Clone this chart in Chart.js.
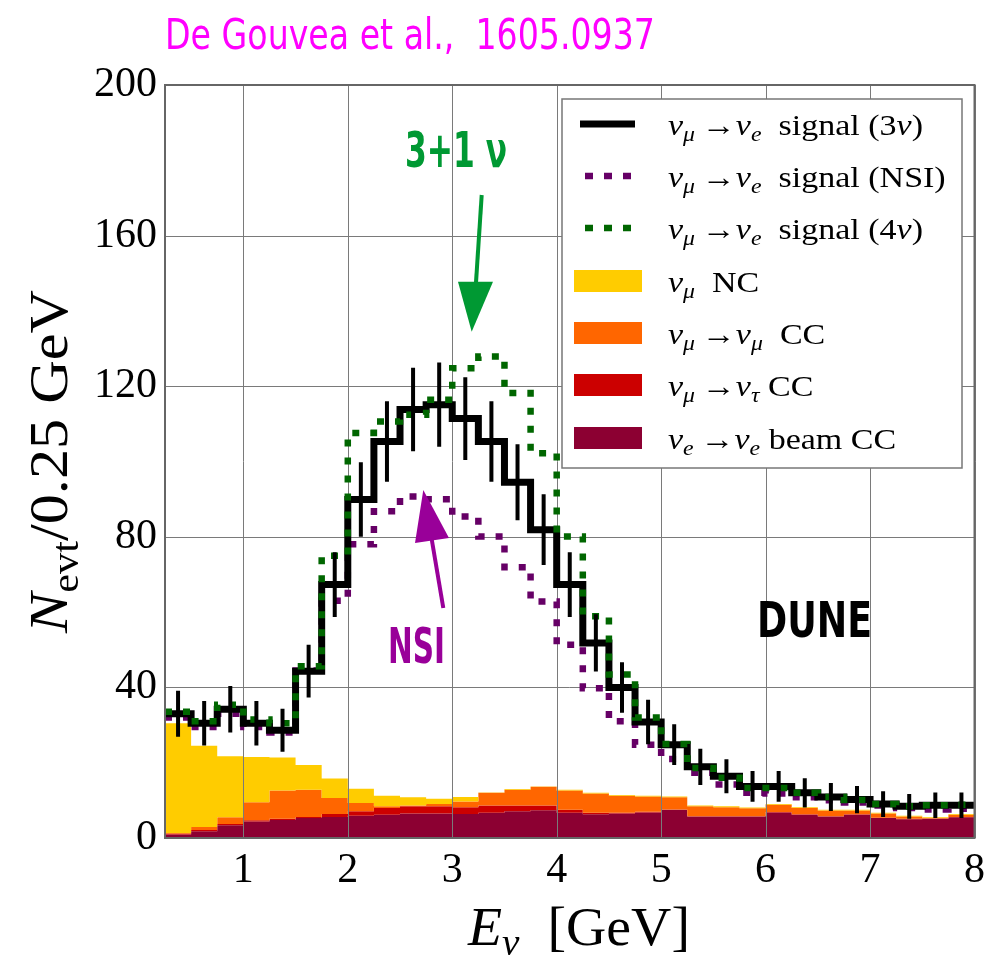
<!DOCTYPE html>
<html>
<head>
<meta charset="utf-8">
<script src="https://cdn.jsdelivr.net/npm/chart.js@4.4.1/dist/chart.umd.min.js"></script>
<style>
html, body { margin: 0; padding: 0; background: #fff; }
</style>
</head>
<body>
<canvas id="chart" width="993" height="959"></canvas>
<script>
// bin edges in GeV (0.25 GeV bins)
const edges = [0.25, 0.5, 0.75, 1.0, 1.25, 1.5, 1.75, 2.0, 2.25, 2.5, 2.75, 3.0, 3.25, 3.5, 3.75, 4.0,
  4.25, 4.5, 4.75, 5.0, 5.25, 5.5, 5.75, 6.0, 6.25, 6.5, 6.75, 7.0, 7.25, 7.5, 7.75, 8.0];

// signal counts per bin
const signal3nu = [33.0, 30.5, 34.2, 30.5, 28.6, 44.3, 67.3, 89.9, 105.3, 113.8, 115.1, 111.4, 105.3, 94.5, 81.9, 67.3,
  51.8, 40.0, 30.8, 24.8, 18.9, 16.4, 13.7, 13.7, 12.0, 10.9, 10.2, 9.0, 8.4, 8.7, 8.7];
const err3nu = [6.1, 5.9, 6.2, 5.9, 5.7, 7.0, 8.6, 9.9, 10.7, 11.1, 11.2, 11.0, 10.7, 10.1, 9.4, 8.6,
  7.6, 6.7, 5.9, 5.4, 4.8, 4.5, 4.1, 4.1, 3.9, 3.7, 3.6, 3.4, 3.3, 3.4, 3.4];
const signalNSI = [32.0, 29.5, 33.0, 29.5, 28.0, 44.5, 63.0, 78.0, 86.8, 90.7, 90.0, 85.4, 80.1, 71.9, 62.8, 51.3,
  39.8, 31.0, 24.8, 21.0, 17.3, 14.2, 12.0, 11.8, 10.8, 10.0, 9.4, 8.6, 8.0, 7.6, 7.8];
const signal4nu = [33.5, 31.0, 35.4, 31.5, 30.5, 45.6, 75.0, 107.6, 110.6, 112.4, 116.4, 124.8, 127.9, 118.2, 102.2, 80.1,
  58.9, 43.4, 32.0, 25.0, 18.6, 16.0, 13.3, 13.3, 12.0, 10.9, 10.1, 9.0, 8.4, 8.7, 8.8];

// backgrounds (stacked, bottom to top)
const beamCC = [0.9, 1.8, 3.4, 4.4, 4.8, 5.3, 5.6, 5.9, 6.2, 6.5, 6.5, 6.4, 6.7, 7.1, 7.4, 6.7,
  6.3, 6.5, 6.8, 7.5, 5.7, 5.7, 5.7, 6.8, 6.2, 5.7, 6.2, 5.3, 5.0, 5.1, 5.5];
const nutauCC = [0.2, 0.3, 0.3, 0.3, 0.3, 0.3, 0.8, 1.2, 1.8, 1.9, 1.9, 1.8, 1.9, 1.5, 1.2, 0.8,
  0.4, 0.2, 0.2, 0.1, 0.1, 0.1, 0.1, 0.1, 0.1, 0.1, 0.1, 0.1, 0.1, 0.1, 0.1];
const numuCC = [0.2, 0.8, 1.8, 4.8, 7.5, 7.2, 4.2, 2.2, 0.4, 0.2, 0.6, 1.5, 3.4, 4.2, 5.0, 5.1,
  5.1, 4.5, 4.0, 3.2, 2.6, 2.4, 2.1, 1.9, 1.7, 1.5, 1.0, 1.1, 0.6, 0.1, 0.6];
const numuNC = [29.2, 21.6, 16.2, 12.0, 8.8, 6.6, 5.2, 3.8, 2.8, 2.2, 1.4, 1.2, 0.1, 0.2, 0.1, 0.2,
  0.2, 0.2, 0.2, 0.2, 0.2, 0.2, 0.2, 0.2, 0.2, 0.2, 0.2, 0.2, 0.2, 0.2, 0.2];

const xTicks = [1, 2, 3, 4, 5, 6, 7, 8];
const yTicks = [0, 40, 80, 120, 160, 200];

const SERIF = '"Liberation Serif", "DejaVu Serif", serif';
const COND = '"Liberation Sans Narrow", "DejaVu Sans Condensed", "Liberation Sans", sans-serif';

// histogram points: value held from left edge to next edge
function steps(vals) {
  const pts = vals.map((v, i) => ({ x: edges[i], y: v }));
  pts.push({ x: edges[edges.length - 1], y: vals[vals.length - 1] });
  return pts;
}
const cumBeam = beamCC.slice();
const cumTau = cumBeam.map((v, i) => v + nutauCC[i]);
const cumNumu = cumTau.map((v, i) => v + numuCC[i]);
const cumNC = cumNumu.map((v, i) => v + numuNC[i]);

const errPts = [];
signal3nu.forEach((v, i) => {
  const c = (edges[i] + edges[i + 1]) / 2;
  errPts.push({ x: c, y: v - err3nu[i] }, { x: c, y: v + err3nu[i] }, { x: c, y: null });
});

function bg(data, color, fill, order) {
  return { data: steps(data), stepped: true, borderColor: 'rgba(0,0,0,0)', borderWidth: 1,
    backgroundColor: color, fill: fill, pointRadius: 0, order: order };
}

function parts(ctx, list, x, y, sx) {
  ctx.save();
  ctx.translate(x, y);
  ctx.scale(sx, 1);
  let cx = 0;
  list.forEach(p => {
    ctx.font = p.f;
    ctx.fillText(p.t, cx, p.dy || 0);
    cx += ctx.measureText(p.t).width;
  });
  ctx.restore();
}
function partsWidth(ctx, list) {
  let w = 0;
  list.forEach(p => { ctx.font = p.f; w += ctx.measureText(p.t).width; });
  return w;
}
function fitText(ctx, text, left, base, w, font, color) {
  ctx.font = font;
  const s = w / ctx.measureText(text).width;
  ctx.save();
  ctx.fillStyle = color;
  ctx.translate(left, base);
  ctx.scale(s, 1);
  ctx.fillText(text, 0, 0);
  ctx.restore();
}
function arrow(ctx, x0, y0, x1, y1, head, color) {
  ctx.save();
  ctx.strokeStyle = color;
  ctx.fillStyle = color;
  ctx.lineWidth = 4;
  ctx.beginPath();
  ctx.moveTo(x0, y0);
  ctx.lineTo(x1, y1);
  ctx.stroke();
  ctx.beginPath();
  ctx.moveTo(head[0][0], head[0][1]);
  ctx.lineTo(head[1][0], head[1][1]);
  ctx.lineTo(head[2][0], head[2][1]);
  ctx.closePath();
  ctx.fill();
  ctx.restore();
}

const overlay = {
  id: 'overlay',
  afterDatasetDraw(chart, args) {
    if (args.index !== 3) return;
    const { ctx, chartArea: a, scales: { x, y } } = chart;
    ctx.save();
    ctx.strokeStyle = '#7a7a7a';
    ctx.lineWidth = 1;
    ctx.beginPath();
    xTicks.forEach(v => {
      const px = Math.round(x.getPixelForValue(v)) + 0.5;
      ctx.moveTo(px, a.top); ctx.lineTo(px, a.bottom);
    });
    yTicks.forEach(v => {
      const py = Math.round(y.getPixelForValue(v)) + 0.5;
      ctx.moveTo(a.left, py); ctx.lineTo(a.right, py);
    });
    ctx.stroke();
    ctx.restore();
  },
  afterDraw(chart) {
    const { ctx, chartArea: a } = chart;
    ctx.save();
    // frame
    ctx.strokeStyle = '#666';
    ctx.lineWidth = 2;
    ctx.strokeRect(a.left, a.top, a.right - a.left, a.bottom - a.top);

    // annotations
    ctx.textBaseline = 'alphabetic';
    fitText(ctx, 'De Gouvea et al.,  1605.0937', 165, 49, 490, '43px ' + COND, '#ff00ff');
    fitText(ctx, '3+1 ν', 405, 167, 102, 'bold 49px ' + COND, '#009933');
    fitText(ctx, 'NSI', 388, 663, 57, 'bold 49px ' + COND, '#990099');
    fitText(ctx, 'DUNE', 757, 637, 115, 'bold 49px ' + COND, '#000');
    arrow(ctx, 481.7, 195, 475.5, 290, [[458, 281.7], [493, 281.7], [471.7, 331.7]], '#009933');
    arrow(ctx, 443.3, 608, 431, 535, [[415, 543], [449, 538], [423.3, 490]], '#990099');

    // axis titles
    ctx.fillStyle = '#000';
    const yl = [
      { t: 'N', f: 'italic 54px ' + SERIF },
      { t: 'evt', f: '38px ' + SERIF, dy: 11 },
      { t: '/0.25 GeV', f: '54px ' + SERIF }
    ];
    const ylw = partsWidth(ctx, yl);
    ctx.save();
    ctx.translate(67, 461.5);
    ctx.rotate(-Math.PI / 2);
    parts(ctx, yl, -343 / 2, 0, 343 / ylw);
    ctx.restore();
    const xl = [
      { t: 'E', f: 'italic 54px ' + SERIF },
      { t: 'ν', f: 'italic 38px ' + SERIF, dy: 10 },
      { t: '  [GeV]', f: '54px ' + SERIF }
    ];
    parts(ctx, xl, 468, 945, 222 / partsWidth(ctx, xl));

    // legend
    ctx.fillStyle = '#fff';
    ctx.fillRect(562, 99, 400, 369);
    ctx.strokeStyle = '#777';
    ctx.lineWidth = 1.5;
    ctx.strokeRect(562, 99, 400, 369);
    const M = '30px ' + SERIF, MI = 'italic 30px ' + SERIF, S = 'italic 21px ' + SERIF;
    const nu = { t: 'ν', f: MI }, arr = { t: '\u2009→', f: M };
    const sub = s => ({ t: s, f: S, dy: 6 });
    const rows = [
      [nu, sub('μ'), arr, nu, sub('e'), { t: '  signal (3', f: M }, nu, { t: ')', f: M }],
      [nu, sub('μ'), arr, nu, sub('e'), { t: '  signal (NSI)', f: M }],
      [nu, sub('μ'), arr, nu, sub('e'), { t: '  signal (4', f: M }, nu, { t: ')', f: M }],
      [nu, sub('μ'), { t: '  NC', f: M }],
      [nu, sub('μ'), arr, nu, sub('μ'), { t: '  CC', f: M }],
      [nu, sub('μ'), arr, nu, sub('τ'), { t: ' CC', f: M }],
      [nu, sub('e'), arr, nu, sub('e'), { t: ' beam CC', f: M }]
    ];
    const sx = 255 / partsWidth(ctx, rows[0]);
    const rowY = [124, 176, 228, 281, 333, 385, 438];
    const swatch = ['#000', '#660066', '#006600', '#ffcc00', '#ff6600', '#cc0000', '#8c0032'];
    rows.forEach((r, i) => {
      const cy = rowY[i];
      if (i < 3) {
        ctx.strokeStyle = swatch[i];
        ctx.lineWidth = i === 0 ? 7 : 6.5;
        ctx.setLineDash(i === 0 ? [] : [8, 11]);
        ctx.beginPath();
        ctx.moveTo(i === 0 ? 580 : 585, cy);
        ctx.lineTo(i === 0 ? 635 : 632, cy);
        ctx.stroke();
        ctx.setLineDash([]);
      } else {
        ctx.fillStyle = swatch[i];
        ctx.fillRect(574, cy - 11, 68, 22);
      }
      ctx.fillStyle = '#000';
      parts(ctx, r, 668, cy + 11, sx);
    });
    ctx.restore();
  }
};

new Chart(document.getElementById('chart').getContext('2d'), {
  type: 'line',
  data: {
    datasets: [
      bg(cumBeam, '#8c0032', 'origin', 8),
      bg(cumTau, '#cc0000', 0, 7),
      bg(cumNumu, '#ff6600', 1, 6),
      bg(cumNC, '#ffcc00', 2, 5),
      { data: steps(signalNSI), stepped: true, borderColor: '#660066', borderWidth: 6.5,
        borderDash: [7, 11], fill: false, pointRadius: 0, order: 4 },
      { data: steps(signal3nu), stepped: true, borderColor: '#000', borderWidth: 7,
        fill: false, pointRadius: 0, order: 3 },
      { data: steps(signal4nu), stepped: true, borderColor: '#006600', borderWidth: 6.5,
        borderDash: [7, 11], fill: false, pointRadius: 0, order: 2 },
      { data: errPts, borderColor: '#000', borderWidth: 4, spanGaps: false,
        fill: false, pointRadius: 0, order: 1 }
    ]
  },
  options: {
    responsive: false,
    animation: false,
    devicePixelRatio: 1,
    layout: { padding: { top: 85, right: 16, left: 0, bottom: 0 } },
    plugins: { legend: { display: false }, tooltip: { enabled: false } },
    scales: {
      x: {
        type: 'linear', min: 0.25, max: 8,
        afterBuildTicks: s => { s.ticks = xTicks.map(v => ({ value: v })); },
        afterFit: s => { s.height = 121; },
        grid: { display: false, drawTicks: false },
        border: { display: false },
        ticks: { color: '#000', font: { family: SERIF, size: 42 }, padding: 8, maxRotation: 0, autoSkip: false }
      },
      y: {
        min: 0, max: 200,
        afterBuildTicks: s => { s.ticks = yTicks.map(v => ({ value: v })); },
        afterFit: s => { s.width = 165; },
        grid: { display: false, drawTicks: false },
        border: { display: false },
        ticks: { color: '#000', font: { family: SERIF, size: 42 }, padding: 8 }
      }
    }
  },
  plugins: [overlay]
});
</script>
</body>
</html>
